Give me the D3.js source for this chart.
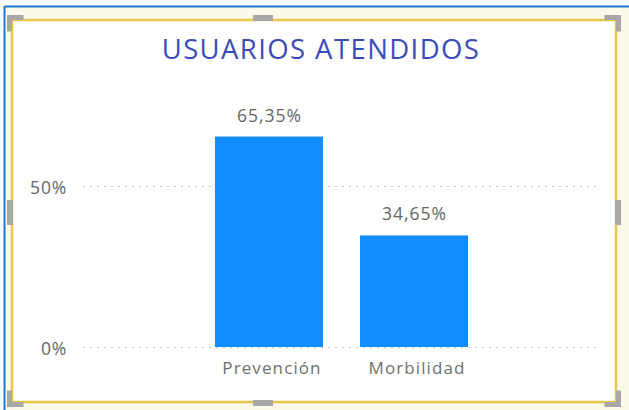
<!DOCTYPE html>
<html>
<head>
<meta charset="utf-8">
<script src="https://cdn.jsdelivr.net/npm/d3@7"></script>
<style>
  html, body { margin: 0; padding: 0; background: #ffffff; }
  svg { display: block; }
</style>
</head>
<body>
<script>
const title = "USUARIOS ATENDIDOS";
const categories = ["Prevención", "Morbilidad"];
const values = [65.35, 34.65];
const valueLabels = ["65,35%", "34,65%"];
const tickValues = [0, 50];
const tickLabels = ["0%", "50%"];

const W = 629, H = 410;
const svg = d3.select("body").append("svg").attr("width", W).attr("height", H);
const font = "'Open Sans', 'Noto Sans', sans-serif";

// Frame background and borders
svg.append("rect").attr("x", 4).attr("y", 6).attr("width", W - 4).attr("height", H - 6).attr("fill", "#fcf8ea");
svg.append("rect").attr("x", 12).attr("y", 20).attr("width", 604).attr("height", 382).attr("fill", "#ffffff");
svg.append("line").attr("x1", 4.5).attr("x2", W).attr("y1", 6.5).attr("y2", 6.5).attr("stroke", "#1f78d1").attr("stroke-width", 2);
svg.append("line").attr("x1", 4.5).attr("x2", 4.5).attr("y1", 6).attr("y2", H).attr("stroke", "#1f78d1").attr("stroke-width", 2);
svg.append("rect").attr("x", 12).attr("y", 20).attr("width", 604).attr("height", 382)
  .attr("fill", "none").attr("stroke", "#e8c84a").attr("stroke-width", 2.5);

// Corner handles
const hc = "#a8a8a8";
const corners = [[9.5, 17.5, 1, 1], [618.5, 17.5, -1, 1], [9.5, 404.5, 1, -1], [618.5, 404.5, -1, -1]];
corners.forEach(([cx, cy, sx, sy]) => {
  svg.append("path")
    .attr("d", `M${cx + sx * 14},${cy} L${cx},${cy} L${cx},${cy + sy * 14}`)
    .attr("fill", "none").attr("stroke", hc).attr("stroke-width", 5);
});
svg.append("rect").attr("x", 253).attr("y", 15).attr("width", 20).attr("height", 6).attr("fill", hc);
svg.append("rect").attr("x", 253).attr("y", 400).attr("width", 20).attr("height", 6).attr("fill", hc);
svg.append("rect").attr("x", 7).attr("y", 200).attr("width", 6).attr("height", 25).attr("fill", hc);
svg.append("rect").attr("x", 615).attr("y", 200).attr("width", 6).attr("height", 25).attr("fill", hc);

// Title
svg.append("text").attr("x", 321).attr("y", 59).attr("text-anchor", "middle")
  .attr("font-family", font).attr("font-size", 27.5).attr("letter-spacing", 1.4).attr("fill", "#3b4cb8")
  .text(title);

// Scales
const x = d3.scaleBand().domain(categories).range([83, 600]).paddingInner(0.255).paddingOuter(0.91);
const y = d3.scaleLinear().domain([0, 50]).range([347, 186]);

// Gridlines
svg.append("g").selectAll("line").data(tickValues).join("line")
  .attr("x1", 83).attr("x2", 600)
  .attr("y1", d => Math.round(y(d)) + 0.5).attr("y2", d => Math.round(y(d)) + 0.5)
  .attr("stroke", "#c4c4c4").attr("stroke-width", 1).attr("stroke-dasharray", "2,5");

// Y axis labels
const yAxis = d3.axisLeft(y).tickValues(tickValues).tickFormat((d, i) => tickLabels[i]).tickSize(0).tickPadding(0);
const ga = svg.append("g").attr("transform", "translate(67,0)").call(yAxis);
ga.select(".domain").remove();
ga.selectAll("text").attr("font-family", font).attr("font-size", 17.5).attr("letter-spacing", 0.8)
  .attr("fill", "#666666").attr("dy", "0.4em");

// Bars
svg.append("g").selectAll("rect").data(values).join("rect")
  .attr("x", (d, i) => x(categories[i]))
  .attr("width", x.bandwidth())
  .attr("y", d => y(d))
  .attr("height", d => y(0) - y(d))
  .attr("fill", "#118dff");

// Value labels
svg.append("g").selectAll("text").data(values).join("text")
  .attr("x", (d, i) => x(categories[i]) + x.bandwidth() / 2 + 0.5)
  .attr("y", d => y(d) - 15)
  .attr("text-anchor", "middle")
  .attr("font-family", font).attr("font-size", 17.5).attr("letter-spacing", 1).attr("fill", "#666666")
  .text((d, i) => valueLabels[i]);

// X axis labels
const xAxis = d3.axisBottom(x).tickSize(0).tickPadding(0);
const gx = svg.append("g").attr("transform", "translate(3,374)").call(xAxis);
gx.select(".domain").remove();
gx.selectAll("text").attr("font-family", font).attr("font-size", 17).attr("letter-spacing", 1.1)
  .attr("fill", "#707070").attr("dy", 0);
</script>
</body>
</html>
